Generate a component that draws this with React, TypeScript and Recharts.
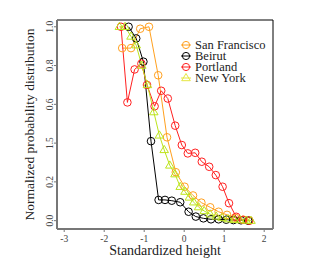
import { LineChart, Line, XAxis, YAxis, Legend, ReferenceLine } from 'recharts';

const xTicks = [-3, -2, -1, 0, 1, 2];
const yTicks = [0, 0.2, 0.4, 0.6, 0.8, 1.0];
const yTickLabels = ['0.0', '0.2', '1.5', '0.6', '0.8', '1.0'];

const sanFranciscoX = [-1.55, -1.33, -1.1, -0.88, -0.65, -0.43, -0.21, 0.01, 0.22, 0.43, 0.65, 0.86, 1.07, 1.27, 1.48, 1.62];
const sanFranciscoY = [0.89, 0.89, 0.99, 1.0, 0.75, 0.43, 0.25, 0.175, 0.13, 0.093, 0.069, 0.046, 0.03, 0.015, 0.005, 0.0];

const beirutX = [-1.39, -1.2, -1.02, -0.83, -0.64, -0.48, -0.31, -0.1, 0.11, 0.29, 0.48, 0.67, 0.86, 1.05, 1.23, 1.42, 1.6];
const beirutY = [1.0, 0.94, 0.82, 0.41, 0.107, 0.107, 0.103, 0.095, 0.046, 0.021, 0.012, 0.007, 0.007, 0.005, 0.003, 0.002, 0.0];

const portlandX = [-1.58, -1.42, -1.24, -1.07, -0.93, -0.74, -0.575, -0.41, -0.225, -0.06, 0.09, 0.275, 0.44, 0.625, 0.79, 0.96, 1.12, 1.3, 1.47, 1.63];
const portlandY = [1.0, 0.61, 0.78, 0.81, 0.7, 0.59, 0.67, 0.63, 0.49, 0.39, 0.347, 0.35, 0.304, 0.278, 0.235, 0.175, 0.09, 0.02, 0.004, 0.0];

const newYorkX = [-1.62, -1.48, -1.33, -1.2, -1.06, -0.92, -0.76, -0.62, -0.5, -0.36, -0.23, -0.1, 0.02, 0.13, 0.24, 0.36, 0.5, 0.65, 0.8, 0.95, 1.1, 1.25, 1.4, 1.55, 1.67];
const newYorkY = [1.0, 1.0, 0.95, 0.905, 0.8, 0.7, 0.56, 0.44, 0.365, 0.285, 0.24, 0.175, 0.15, 0.12, 0.095, 0.07, 0.05, 0.033, 0.022, 0.014, 0.008, 0.005, 0.003, 0.001, 0.0];

const toPoints = (xs: number[], ys: number[]) => xs.map((x, i) => ({ x, y: ys[i] }));

const series = [
  { name: 'San Francisco', color: '#ffa01e', legendColor: '#ffa01e', shape: 'circle', data: toPoints(sanFranciscoX, sanFranciscoY) },
  { name: 'Beirut', color: '#000000', legendColor: '#000000', shape: 'circle', data: toPoints(beirutX, beirutY) },
  { name: 'Portland', color: '#ff2020', legendColor: '#ff2020', shape: 'circle', data: toPoints(portlandX, portlandY) },
  { name: 'New York', color: '#bde41c', legendColor: '#e6e640', shape: 'triangle', data: toPoints(newYorkX, newYorkY) },
];

const FONT = "'Liberation Serif', 'DejaVu Serif', serif";
const serif = { fontFamily: FONT };

function makeDot(color: string, shape: string) {
  return (props: any) => {
    const { cx, cy, index } = props;
    if (cx == null || cy == null) return <g key={index} />;
    if (shape === 'triangle') {
      const r = 4.5;
      const pts = `${cx},${cy - r} ${cx - r * 0.95},${cy + r * 0.6} ${cx + r * 0.95},${cy + r * 0.6}`;
      return <polygon key={index} points={pts} fill="none" stroke={color} strokeWidth={1} />;
    }
    return <circle key={index} cx={cx} cy={cy} r={3.8} fill="none" stroke={color} strokeWidth={1} />;
  };
}

const YTick = ({ x, y, payload }: any) => {
  const idx = yTicks.indexOf(payload.value);
  const label = idx >= 0 ? yTickLabels[idx] : String(payload.value);
  return (
    <text
      x={x}
      y={y}
      transform={`rotate(-90, ${x}, ${y})`}
      textAnchor="middle"
      dy="0.35em"
      fontSize={9.5}
      fontFamily="Liberation Serif"
      fill="#444"
    >
      {label}
    </text>
  );
};

const XTick = ({ x, y, payload }: any) => (
  <text x={x} y={y} dy="0.75em" textAnchor="middle" fontSize={9.5} fontFamily="Liberation Serif" fill="#444">
    {payload.value}
  </text>
);

const LegendContent = () => (
  <svg width={100} height={48}>
    {series.map((s, i) => {
      const cy = 7 + i * 11;
      return (
        <g key={s.name}>
          <line x1={1} x2={11} y1={cy} y2={cy} stroke={s.legendColor} strokeWidth={1} />
          {s.shape === 'triangle' ? (
            <polygon
              points={`6,${cy - 4.5} ${1.7},${cy + 2.7} ${10.3},${cy + 2.7}`}
              fill="none"
              stroke={s.legendColor}
            />
          ) : (
            <circle cx={6} cy={cy} r={3.6} fill="none" stroke={s.legendColor} />
          )}
          <text x={15} y={cy} dy="0.33em" fontSize={12.5} fontFamily="Liberation Serif" fill="#222">
            {s.name}
          </text>
        </g>
      );
    })}
  </svg>
);

export default function App() {
  return (
    <div style={{ position: 'absolute', left: 0, top: 0, width: 316, height: 270, background: '#fff', fontFamily: FONT }}>
      <LineChart width={316} height={270} margin={{ top: 20, right: 43, bottom: 0, left: 0 }}>
        <XAxis
          type="number"
          dataKey="x"
          domain={[-3.18, 2.22]}
          ticks={xTicks}
          allowDataOverflow
          height={41}
          tick={<XTick />}
          tickSize={3}
          tickMargin={3}
          axisLine={{ stroke: '#777', strokeWidth: 2 }}
          tickLine={{ stroke: '#777' }}
          label={{ value: 'Standardized height', position: 'insideBottom', offset: 15, fontSize: 14, fontFamily: 'Liberation Serif', fill: '#222' }}
        />
        <YAxis
          type="number"
          dataKey="y"
          domain={[-0.043, 1.035]}
          ticks={yTicks}
          allowDataOverflow
          width={57}
          tick={<YTick />}
          tickSize={3}
          tickMargin={4}
          axisLine={{ stroke: '#777', strokeWidth: 2 }}
          tickLine={{ stroke: '#777' }}
          label={{
            value: 'Normalized probability distribution',
            angle: -90,
            position: 'insideLeft',
            offset: 29,
            style: { textAnchor: 'middle' },
            fontSize: 13.5,
            fontFamily: 'Liberation Serif',
            fill: '#222',
          }}
        />
        <ReferenceLine y={1.035} stroke="#000" strokeWidth={1} />
        <ReferenceLine x={2.22} stroke="#000" strokeWidth={1} />
        {series.map((s) => (
          <Line
            key={s.name}
            data={s.data}
            dataKey="y"
            name={s.name}
            type="linear"
            stroke={s.color}
            strokeWidth={1}
            dot={makeDot(s.color, s.shape)}
            isAnimationActive={false}
          />
        ))}
        <Legend
          layout="vertical"
          align="center"
          verticalAlign="middle"
          content={<LegendContent />}
          wrapperStyle={{ left: 180, top: 38, width: 100, height: 48 }}
        />
      </LineChart>
    </div>
  );
}
